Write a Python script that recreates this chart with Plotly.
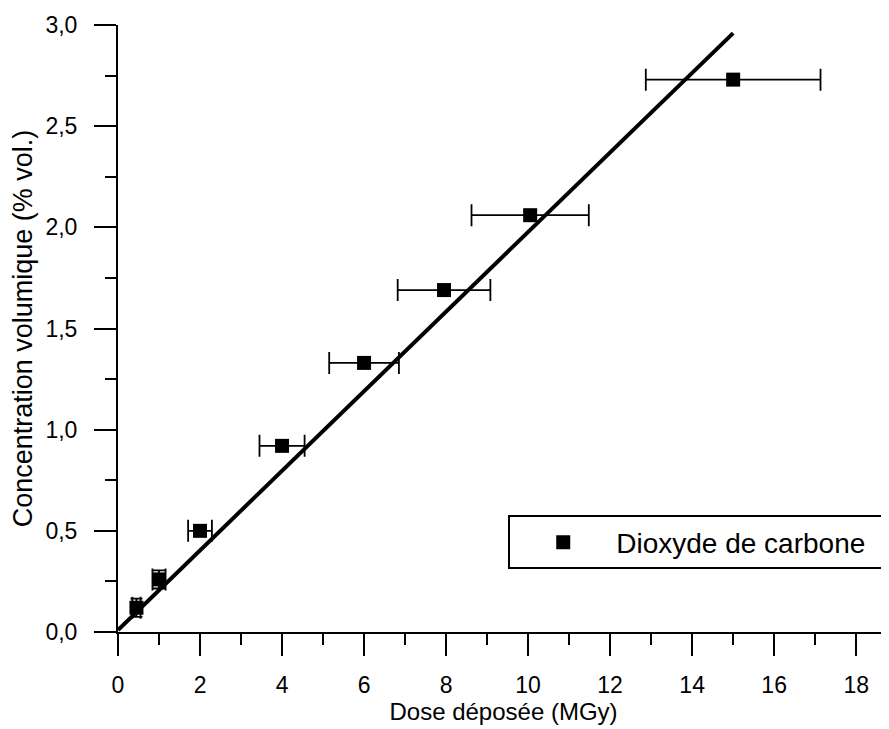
import plotly.graph_objects as go

# Measured points: dose (MGy) vs CO2 volume concentration (% vol.)
dose = [0.45, 1.0, 2.0, 4.0, 6.0, 7.95, 10.05, 15.0]
concentration = [0.12, 0.26, 0.50, 0.92, 1.33, 1.69, 2.06, 2.73]
dose_err = [0.1, 0.16, 0.29, 0.55, 0.85, 1.13, 1.43, 2.13]
conc_err = [0.045, 0.045, 0.02, 0.02, 0.02, 0.02, 0.02, 0.02]

# Linear fit line end points
fit_x = [0, 15.0]
fit_y = [0.01, 2.96]

FONT = 'Liberation Sans, Arial, sans-serif'

fig = go.Figure()

fig.add_trace(go.Scatter(
    x=fit_x,
    y=fit_y,
    mode='lines',
    line=dict(color='black', width=4),
    showlegend=False,
))

fig.add_trace(go.Scatter(
    x=dose,
    y=concentration,
    mode='markers',
    name='Dioxyde de carbone\u00a0\u00a0',
    marker=dict(symbol='square', size=14, color='black'),
    error_x=dict(type='data', array=dose_err, color='black', thickness=1.8, width=11),
    error_y=dict(type='data', array=conc_err, color='black', thickness=1.8, width=6),
))

# page body has an 8px margin, so the figure is 8px smaller than the window
fig.update_layout(
    width=881,
    height=721,
    margin=dict(l=110, r=0, t=17, b=97),
    plot_bgcolor='white',
    paper_bgcolor='white',
    separators=',.',
    font=dict(family=FONT, size=23, color='black'),
    xaxis=dict(
        range=[0, 18.8],
        dtick=2,
        tick0=0,
        ticks='outside',
        ticklen=22,
        tickwidth=2,
        tickcolor='black',
        ticklabelstandoff=9,
        minor=dict(dtick=1, ticks='outside', ticklen=11, tickwidth=2, tickcolor='black'),
        showline=True,
        linewidth=2,
        linecolor='black',
        showgrid=False,
        zeroline=False,
        title=dict(text='Dose déposée (MGy)', font=dict(size=24), standoff=5),
    ),
    yaxis=dict(
        range=[0, 3.0],
        dtick=0.5,
        tick0=0,
        tickformat='.1f',
        ticks='outside',
        ticklen=22,
        tickwidth=2,
        tickcolor='black',
        ticklabelstandoff=12,
        minor=dict(dtick=0.25, ticks='outside', ticklen=11, tickwidth=2, tickcolor='black'),
        showline=True,
        linewidth=2,
        linecolor='black',
        showgrid=False,
        zeroline=False,
        title=dict(text='Concentration volumique (% vol.)', font=dict(size=27), standoff=8),
    ),
    legend=dict(
        x=0.999,
        y=0.192,
        xanchor='right',
        yanchor='top',
        bgcolor='white',
        bordercolor='black',
        borderwidth=2,
        itemwidth=96,
        font=dict(size=28),
    ),
)

fig.write_html("out.html")
